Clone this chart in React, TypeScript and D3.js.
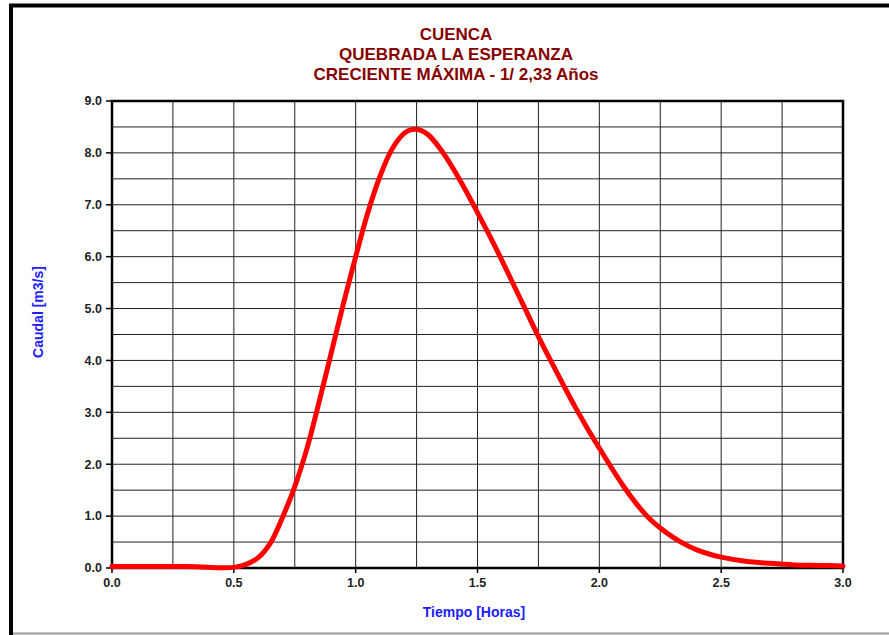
import React from "react";
import * as d3 from "d3";

const titleLines = ["CUENCA", "QUEBRADA LA ESPERANZA", "CRECIENTE MÁXIMA - 1/ 2,33 Años"];
const xLabel = "Tiempo [Horas]";
const yLabel = "Caudal [m3/s]";

const timeHours = [
  0.0, 0.1, 0.2, 0.3, 0.35, 0.4, 0.45, 0.5, 0.55, 0.6, 0.65, 0.7, 0.75, 0.8, 0.85, 0.9, 0.95,
  1.0, 1.05, 1.1, 1.15, 1.2, 1.23, 1.27, 1.3, 1.35, 1.4, 1.45, 1.5, 1.55, 1.6, 1.65, 1.7, 1.75,
  1.8, 1.85, 1.9, 1.95, 2.0, 2.05, 2.1, 2.15, 2.2, 2.25, 2.3, 2.35, 2.4, 2.45, 2.5, 2.6, 2.7,
  2.8, 2.9, 3.0,
];
const flowM3s = [
  0.03, 0.03, 0.03, 0.03, 0.025, 0.012, 0.004, 0.012, 0.07, 0.2, 0.48, 0.98, 1.57, 2.3, 3.2, 4.15, 5.1,
  6.0, 6.85, 7.55, 8.08, 8.38, 8.45, 8.43, 8.34, 8.06, 7.7, 7.29, 6.85, 6.4, 5.93, 5.44, 4.95, 4.46,
  4.0, 3.55, 3.11, 2.7, 2.31, 1.93, 1.57, 1.25, 0.98, 0.77, 0.6, 0.46, 0.35, 0.27, 0.21, 0.13, 0.09,
  0.06, 0.05, 0.04,
];
const xTicks = [0, 0.5, 1.0, 1.5, 2.0, 2.5, 3.0];
const yTicks = [0, 1, 2, 3, 4, 5, 6, 7, 8, 9];
const xGrid = d3.range(0, 3.0001, 0.25);
const yGrid = d3.range(0, 9.0001, 0.5);

export default function App() {
  const W = 889, H = 635;
  const L = 112, R = 843, T = 101, B = 568;
  const x = d3.scaleLinear().domain([0, 3]).range([L, R]);
  const y = d3.scaleLinear().domain([0, 9]).range([B, T]);
  const pts: [number, number][] = timeHours.map((t, i) => [t, flowM3s[i]]);
  const line = d3
    .line<[number, number]>()
    .x((d) => x(d[0]))
    .y((d) => y(d[1]))
    .curve(d3.curveCatmullRom.alpha(0.5));
  const font = "Arial, 'Liberation Sans', sans-serif";
  return (
    <svg width={W} height={H} style={{ position: "absolute", left: 0, top: 0, background: "#fff" }}>
      <rect x={0} y={0} width={W} height={H} fill="#fff" />
      {/* frame */}
      <line x1={9} y1={5.5} x2={W} y2={5.5} stroke="#000" strokeWidth={4} />
      <line x1={11} y1={4} x2={11} y2={H} stroke="#000" strokeWidth={4} />
      <line x1={13} y1={633.5} x2={W} y2={633.5} stroke="#999" strokeWidth={2} />
      {/* titles */}
      {titleLines.map((s, i) => (
        <text
          key={i}
          x={456}
          y={40 + i * 20}
          textAnchor="middle"
          fontFamily={font}
          fontWeight="bold"
          fontSize={17}
          fill="#870000"
        >
          {s}
        </text>
      ))}
      {/* grid */}
      {xGrid.map((v, i) => (
        <line key={"gx" + i} x1={x(v)} x2={x(v)} y1={T} y2={B} stroke="#222" strokeWidth={1} />
      ))}
      {yGrid.map((v, i) => (
        <line key={"gy" + i} x1={L} x2={R} y1={y(v)} y2={y(v)} stroke="#222" strokeWidth={1} />
      ))}
      {/* plot border */}
      <rect x={L} y={T} width={R - L} height={B - T} fill="none" stroke="#000" strokeWidth={2.5} />
      {/* ticks */}
      {yTicks.map((v) => (
        <line key={"ty" + v} x1={L - 6} x2={L} y1={y(v)} y2={y(v)} stroke="#000" strokeWidth={1.5} />
      ))}
      {xTicks.map((v) => (
        <line key={"tx" + v} x1={x(v)} x2={x(v)} y1={B} y2={B + 5} stroke="#000" strokeWidth={1.5} />
      ))}
      {yTicks.map((v) => (
        <text
          key={"ly" + v}
          x={102}
          y={y(v)}
          dy="0.35em"
          textAnchor="end"
          fontFamily={font}
          fontWeight="bold"
          fontSize={12.5}
          fill="#222"
        >
          {d3.format(".1f")(v)}
        </text>
      ))}
      {xTicks.map((v) => (
        <text
          key={"lx" + v}
          x={x(v)}
          y={587}
          textAnchor="middle"
          fontFamily={font}
          fontWeight="bold"
          fontSize={12.5}
          fill="#222"
        >
          {d3.format(".1f")(v)}
        </text>
      ))}
      {/* curve */}
      <path d={line(pts) || ""} fill="none" stroke="#FF0000" strokeWidth={5} strokeLinejoin="round" strokeLinecap="round" />
      {/* axis titles */}
      <text
        x={474}
        y={617}
        textAnchor="middle"
        fontFamily={font}
        fontWeight="bold"
        fontSize={14}
        fill="#2020FF"
      >
        {xLabel}
      </text>
      <text
        transform={`translate(43,312) rotate(-90)`}
        textAnchor="middle"
        fontFamily={font}
        fontWeight="bold"
        fontSize={14}
        fill="#2020FF"
      >
        {yLabel}
      </text>
    </svg>
  );
}
